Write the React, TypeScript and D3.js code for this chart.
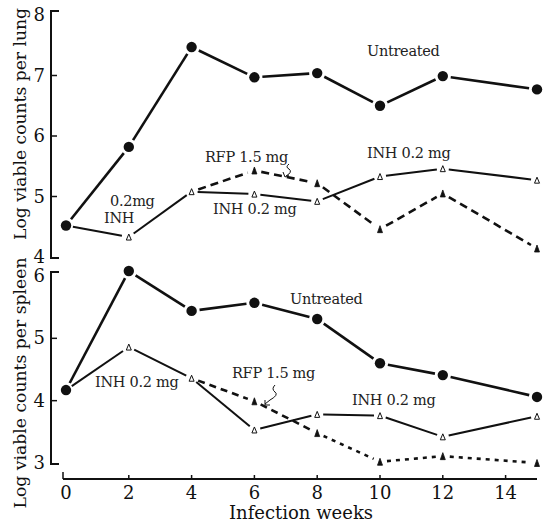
import * as d3 from 'd3';

const weeks = [0, 2, 4, 6, 8, 10, 12, 15];
const rfpWeeks = [4, 6, 8, 10, 12, 15];
const xTicks = [0, 2, 4, 6, 8, 10, 12, 14];

const lungUntreated = [4.52, 5.82, 7.47, 6.97, 7.04, 6.5, 6.99, 6.77];
const lungInh = [4.52, 4.33, 5.08, 5.04, 4.92, 5.33, 5.46, 5.27];
const lungRfp = [5.08, 5.43, 5.22, 4.46, 5.05, 4.14];
const lungTicks = [4, 5, 6, 7, 8];

const spleenUntreated = [4.17, 6.08, 5.44, 5.57, 5.31, 4.6, 4.41, 4.06];
const spleenInh = [4.17, 4.86, 4.36, 3.53, 3.78, 3.76, 3.42, 3.75];
const spleenRfp = [4.36, 3.99, 3.48, 3.02, 3.11, 3.0];
const spleenTicks = [3, 4, 5, 6];

const FONT = "'DejaVu Serif', 'Liberation Serif', serif";
const INK = '#111';

type Pt = [number, number];

function Segments({ pts, gap, width, dash }: { pts: Pt[]; gap: number; width: number; dash?: string }) {
  return (
    <g>
      {pts.slice(1).map((p, i) => {
        const a = pts[i];
        const dx = p[0] - a[0];
        const dy = p[1] - a[1];
        const len = Math.hypot(dx, dy);
        const ux = dx / len;
        const uy = dy / len;
        return (
          <line
            key={i}
            x1={a[0] + ux * gap}
            y1={a[1] + uy * gap}
            x2={p[0] - ux * gap}
            y2={p[1] - uy * gap}
            stroke={INK}
            strokeWidth={width}
            strokeDasharray={dash}
          />
        );
      })}
    </g>
  );
}

function Tri({ x, y, filled }: { x: number; y: number; filled: boolean }) {
  const h = filled ? 7 : 6;
  const w = 5;
  const path = `M${x},${y - h / 2} L${x + w / 2},${y + h / 2} L${x - w / 2},${y + h / 2} Z`;
  return <path d={path} fill={filled ? INK : '#fff'} stroke={INK} strokeWidth={filled ? 0.8 : 1} />;
}

export default function App() {
  const x = d3.scaleLinear().domain([0, 15]).range([66, 537]);
  const yL = d3.scaleLinear().domain([4, 8]).range([257, 15]);
  const yS = d3.scaleLinear().domain([3, 6]).range([463, 276]);

  const axisX = 51;

  const panel = (
    y: d3.ScaleLinear<number, number>,
    ticks: number[],
    untreated: number[],
    inh: number[],
    rfp: number[],
    rfpDash: (i: number) => string
  ) => {
    const uPts: Pt[] = weeks.map((w, i) => [x(w), y(untreated[i])]);
    const iPts: Pt[] = weeks.map((w, i) => [x(w), y(inh[i])]);
    const rPts: Pt[] = rfpWeeks.map((w, i) => [x(w), y(rfp[i])]);
    const [lo, hi] = y.domain();
    return (
      <g>
        <line x1={axisX} x2={axisX} y1={y(hi) - 4} y2={y(lo) + 1} stroke={INK} strokeWidth={2} />
        <line x1={axisX - 1} x2={axisX + 8} y1={y(hi) - 4} y2={y(hi) - 4} stroke={INK} strokeWidth={2} />
        <line x1={axisX - 1} x2={axisX + 8} y1={y(lo) + 1} y2={y(lo) + 1} stroke={INK} strokeWidth={2} />
        {ticks.slice(1, -1).map((t) => (
          <line key={t} x1={axisX} x2={axisX + 6} y1={y(t)} y2={y(t)} stroke={INK} strokeWidth={1.5} />
        ))}
        {ticks.map((t) => (
          <text
            key={t}
            x={axisX - 6}
            y={y(t) + 6}
            textAnchor="end"
            fontFamily={FONT}
            fontSize={18}
            fill={INK}
          >
            {t}
          </text>
        ))}
        <Segments pts={uPts} gap={8} width={2.6} />
        <Segments pts={iPts.slice(0, 2)} gap={7} width={2} />
        <Segments pts={iPts.slice(1)} gap={6} width={2} />
        {rPts.slice(1).map((p, i) => (
          <Segments key={i} pts={[rPts[i], p]} gap={7} width={2.6} dash={rfpDash(i)} />
        ))}
        {uPts.map((p, i) => (
          <circle key={i} cx={p[0]} cy={p[1]} r={5.2} fill={INK} />
        ))}
        {iPts.slice(1).map((p, i) => (
          <Tri key={i} x={p[0]} y={p[1]} filled={false} />
        ))}
        {rPts.slice(1).map((p, i) => (
          <Tri key={i} x={p[0]} y={p[1]} filled={true} />
        ))}
      </g>
    );
  };

  const label = (tx: number, ty: number, s: string, size = 14.5) => (
    <text x={tx} y={ty} fontFamily={FONT} fontSize={size} fill="#222" letterSpacing={-0.3}>
      {s}
    </text>
  );

  const xAxisY = 479;

  return (
    <svg width={555} height={526} style={{ position: 'absolute', left: 0, top: 0, background: '#fff' }}>
      <rect width={555} height={526} fill="#fff" />
      {panel(yL, lungTicks, lungUntreated, lungInh, lungRfp, () => '8 5')}
      {panel(yS, spleenTicks, spleenUntreated, spleenInh, spleenRfp, (i) => (i >= 2 ? '4 5' : '7 5'))}

      <line x1={x(0) - 3} x2={x(15)} y1={xAxisY} y2={xAxisY} stroke={INK} strokeWidth={2.2} />
      {xTicks.map((t) => (
        <g key={t}>
          <line x1={x(t) - (t === 0 ? 3 : 0)} x2={x(t) - (t === 0 ? 3 : 0)} y1={xAxisY} y2={xAxisY - (t === 0 ? 7 : 4)} stroke={INK} strokeWidth={1.5} />
          <text x={x(t)} y={xAxisY + 20} textAnchor="middle" fontFamily={FONT} fontSize={18} fill={INK}>
            {t}
          </text>
        </g>
      ))}
      <text x={301} y={519} textAnchor="middle" fontFamily={FONT} fontSize={18} fill={INK}>
        Infection weeks
      </text>
      <text
        transform="translate(26,124) rotate(-90)"
        textAnchor="middle"
        fontFamily={FONT}
        fontSize={17.5}
        fill={INK}
        textLength={232}
        lengthAdjust="spacingAndGlyphs"
      >
        Log viable counts per lung
      </text>
      <text
        transform="translate(26,383) rotate(-90)"
        textAnchor="middle"
        fontFamily={FONT}
        fontSize={17.5}
        fill={INK}
        textLength={251}
        lengthAdjust="spacingAndGlyphs"
      >
        Log viable counts per spleen
      </text>

      {/* upper annotations */}
      {label(367, 56, 'Untreated')}
      {label(205, 162, 'RFP 1.5 mg')}
      {label(213, 214, 'INH 0.2 mg')}
      {label(110, 206, '0.2mg')}
      {label(104, 223, 'INH')}
      {label(367, 158, 'INH 0.2 mg')}
      <path d="M289,164 q-4,3 0,5 q4,3 -3,7" fill="none" stroke={INK} strokeWidth={1} />
      <path d="M283,172 l2,5 l4,-2" fill="none" stroke={INK} strokeWidth={1} />

      {/* lower annotations */}
      {label(290, 304, 'Untreated')}
      {label(95, 387, 'INH 0.2 mg')}
      {label(232, 378, 'RFP 1.5 mg')}
      {label(352, 405, 'INH 0.2 mg')}
      <path d="M275,385 q-4,4 0,7 q4,3 -5,8 l-5,4" fill="none" stroke={INK} strokeWidth={1} />
      <path d="M265,400 l0,5 l5,0" fill="none" stroke={INK} strokeWidth={1} />
    </svg>
  );
}
